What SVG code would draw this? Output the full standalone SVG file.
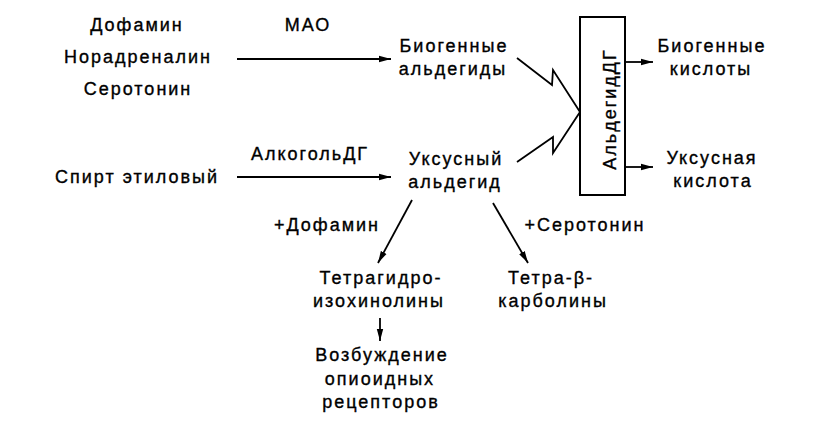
<svg xmlns="http://www.w3.org/2000/svg" width="816" height="436" viewBox="0 0 816 436">
<defs>
<style>
text{font-family:"Liberation Sans",Arial,sans-serif;font-size:18px;fill:#000;text-anchor:middle;letter-spacing:2px;stroke:#000;stroke-width:0.35px}
.ln{stroke:#000;stroke-width:1.8;fill:none}
.ar{marker-end:url(#ah)}
</style>
<marker id="ah" markerUnits="userSpaceOnUse" markerWidth="13" markerHeight="8" refX="12" refY="4" orient="auto">
<path d="M0,0.8 L12,4 L0,7.2 z" fill="#000"/>
</marker>
</defs>
<rect width="816" height="436" fill="#fff"/>
<g id="amines">
<text x="137" y="31">Дофамин</text>
<text x="138" y="63">Норадреналин</text>
<text x="138" y="95">Серотонин</text>
</g>
<g id="ethanol"><text x="137" y="183">Спирт этиловый</text></g>
<g id="mao"><text x="308" y="31">МАО</text></g>
<g id="adh"><text x="310" y="160">АлкогольДГ</text></g>
<g id="bio-ald">
<text x="454" y="52">Биогенные</text>
<text x="453" y="75">альдегиды</text>
</g>
<g id="acetald">
<text x="456" y="165">Уксусный</text>
<text x="455" y="188">альдегид</text>
</g>
<g id="aldh">
<rect x="580" y="17" width="45" height="178" fill="#fff" stroke="#000" stroke-width="2"/>
<text transform="translate(616,109) rotate(-90)">АльдегидДГ</text>
</g>
<g id="bio-acid">
<text x="712" y="52">Биогенные</text>
<text x="711" y="75">кислоты</text>
</g>
<g id="acetic">
<text x="712" y="164">Уксусная</text>
<text x="713" y="187">кислота</text>
</g>
<g id="plus-dopa"><text x="327" y="231">+Дофамин</text></g>
<g id="plus-sero"><text x="585" y="231">+Серотонин</text></g>
<g id="thiq">
<text x="381" y="284">Тетрагидро-</text>
<text x="379" y="307">изохинолины</text>
</g>
<g id="tbc">
<text x="551" y="284">Тетра-β-</text>
<text x="553" y="307">карболины</text>
</g>
<g id="opioid">
<text x="382" y="361">Возбуждение</text>
<text x="380" y="385">опиоидных</text>
<text x="381" y="408">рецепторов</text>
</g>
<g id="connectors">
<line class="ln ar" x1="237" y1="59" x2="391" y2="59"/>
<line class="ln ar" x1="237" y1="177" x2="391" y2="177"/>
<polyline class="ln" points="517,58 552,85 553,70 580,112"/>
<polyline class="ln" points="517,162 553,137 553,153 580,112"/>
<line class="ln ar" x1="625" y1="62" x2="653" y2="62"/>
<line class="ln ar" x1="625" y1="167" x2="653" y2="167"/>
<line class="ln ar" x1="412" y1="200" x2="378" y2="263"/>
<line class="ln ar" x1="493" y1="203" x2="528" y2="263"/>
<line class="ln ar" x1="380" y1="318" x2="380" y2="341"/>
</g>
</svg>
